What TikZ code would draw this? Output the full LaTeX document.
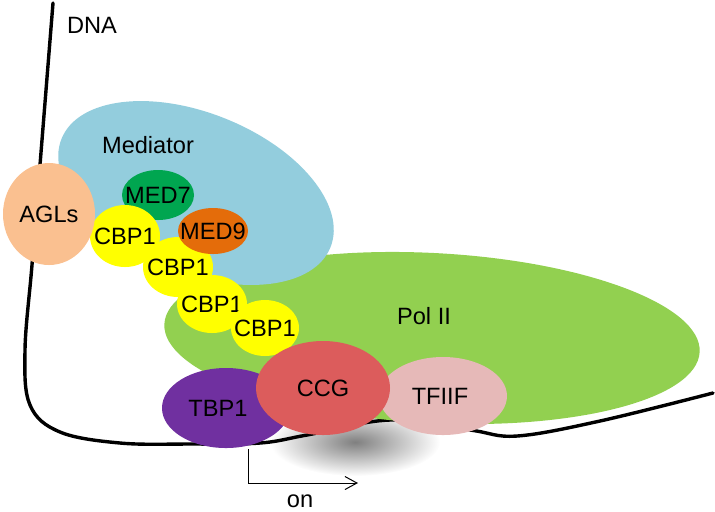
\documentclass[tikz,border=0pt]{standalone}
\usepackage{fontspec}
\setmainfont{Liberation Sans}
\usetikzlibrary{shapes.geometric,arrows.meta}

\definecolor{medblue}{HTML}{93CDDD}
\definecolor{polgreen}{HTML}{92D050}
\definecolor{aglpeach}{HTML}{FAC090}
\definecolor{medgreen}{HTML}{00A650}
\definecolor{medorange}{HTML}{E46C0A}
\definecolor{cbpyellow}{HTML}{FFFF00}
\definecolor{tbppurple}{HTML}{7030A0}
\definecolor{ccgred}{HTML}{DC5C5C}
\definecolor{tfpink}{HTML}{E6B9B8}

\begin{document}
\begin{tikzpicture}[x=0.5pt,y=-0.5pt,
every node/.style={font=\fontsize{11.8}{14}\selectfont},
blob/.style={ellipse, inner sep=0pt},
cbp/.style={blob, fill=cbpyellow, label=center:CBP1},
dna/.style={line width=1.7pt, line cap=round},
]
\useasboundingbox (0,0) rectangle (715,511);

% shadow under the complex
\shade[inner color=black!50, outer color=white] (355,442) ellipse [x radius=85, y radius=34];

% DNA
\draw[dna] plot[smooth, tension=0.6] coordinates {(53,3) (40,165) (32,265) (25,350) (30,405) (60,432) (120,443) (190,444) (260,443) (307,435) (390,420) (470,430) (517,436) (600,421) (713,393)};
\node (dna) at (92,25) {DNA};

\node[blob, fill=polgreen, minimum width=268pt, minimum height=85pt, rotate=-3] (polii) at (432,338) {};
\node (pol) at (424,316) {Pol II};
\node[blob, fill=medblue, minimum width=145pt, minimum height=80pt, rotate=-22] (mediator) at (196,193) {};
\node (med) at (148,145) {Mediator};

\node[blob, fill=medgreen, minimum width=36pt, minimum height=25pt, label=center:MED7] (med7) at (158,195) {};
\node[cbp, minimum width=35pt, minimum height=31pt] (cbp1) at (125,236) {};
\node[cbp, minimum width=35pt, minimum height=30pt] (cbp2) at (178,267) {};
\node[cbp, minimum width=35pt, minimum height=29pt] (cbp3) at (212,304) {};
\node[cbp, minimum width=34pt, minimum height=28pt] (cbp4) at (265,328) {};
\node[blob, fill=medorange, minimum width=35pt, minimum height=23pt, label=center:MED9] (med9) at (213,231) {};
\node[blob, fill=aglpeach, minimum width=46pt, minimum height=51pt, label=center:AGLs] (agls) at (49,214) {};

\node[blob, fill=tbppurple, minimum width=64pt, minimum height=40pt, label={[xshift=-4pt]center:TBP1}] (tbp1) at (226,408) {};
\node[blob, fill=tfpink, minimum width=64pt, minimum height=39pt, label={[xshift=-1.5pt]center:TFIIF}] (tfiif) at (443,396) {};
\node[blob, fill=ccgred, minimum width=67pt, minimum height=47pt, label=center:CCG] (ccg) at (323,388) {};

% start site
\coordinate (tss) at (248,449);
\coordinate (tssend) at (358,483);
\draw[line width=0.5pt, -{Straight Barb[length=6pt,width=6.5pt]}] (tss) |- (tssend);
\node (on) at (300,501) {on};
\end{tikzpicture}
\end{document}
